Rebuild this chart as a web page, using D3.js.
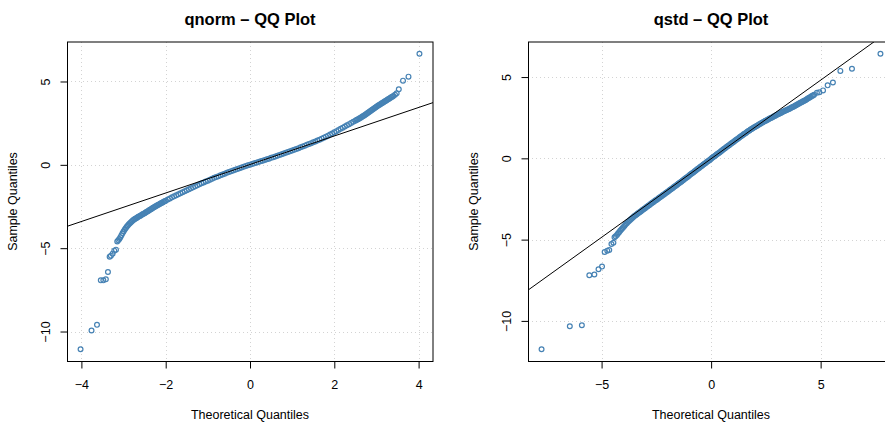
<!DOCTYPE html>
<html>
<head>
<meta charset="utf-8">
<script src="https://cdn.jsdelivr.net/npm/d3@7"></script>
<style>
  body { margin: 0; background: #ffffff; }
  svg { display: block; font-family: "Liberation Sans", Arial, Helvetica, sans-serif; }
</style>
</head>
<body>
<svg id="chart" width="885" height="427"></svg>
<script>
// ---- qnorm panel: theoretical vs sample quantiles ----
const qnormTheoretical = [
  -4.02, -3.76, -3.63, -3.54, -3.48, -3.42, -3.37, -3.33, -3.30, -3.26, -3.22, -3.18,
  -3.15, -3.125, -3.10, -3.075, -3.05, -3.025, -3.00, -2.975, -2.95, -2.925, -2.90, -2.875, -2.85, -2.825, -2.80,
  -2.775, -2.75, -2.725, -2.70, -2.675, -2.65, -2.625, -2.60, -2.575, -2.55,
  -2.525, -2.50, -2.475, -2.45, -2.425, -2.40, -2.375, -2.35, -2.325, -2.30,
  -2.275, -2.25, -2.225, -2.20, -2.175, -2.15, -2.125, -2.10, -2.075, -2.05,
  -2.025, -2.00,
  -1.95, -1.90, -1.85, -1.80, -1.75, -1.70, -1.65, -1.60, -1.55,
  -1.50, -1.45, -1.40, -1.35, -1.30, -1.25, -1.20, -1.15, -1.10, -1.05,
  -1.00, -0.95, -0.90, -0.85, -0.80, -0.75, -0.70, -0.65, -0.60, -0.55,
  -0.50, -0.45, -0.40, -0.35, -0.30, -0.25, -0.20, -0.15, -0.10, -0.05,
  0.00, 0.05, 0.10, 0.15, 0.20, 0.25, 0.30, 0.35, 0.40, 0.45,
  0.50, 0.55, 0.60, 0.65, 0.70, 0.75, 0.80, 0.85, 0.90, 0.95,
  1.00, 1.05, 1.10, 1.15, 1.20, 1.25, 1.30, 1.35, 1.40, 1.45,
  1.50, 1.55, 1.60, 1.65, 1.70, 1.75, 1.80, 1.85, 1.90, 1.95,
  2.00, 2.05, 2.10, 2.15, 2.20, 2.25, 2.30, 2.35, 2.40, 2.45,
  2.50, 2.525, 2.55, 2.575, 2.60, 2.625, 2.65, 2.675, 2.70, 2.725,
  2.75, 2.775, 2.80, 2.825, 2.85, 2.875, 2.90, 2.925, 2.95, 2.975,
  3.00, 3.025, 3.05, 3.075, 3.10, 3.125, 3.15, 3.175, 3.20, 3.225,
  3.25, 3.275, 3.30, 3.325, 3.35, 3.375, 3.40,
  3.44, 3.48, 3.53, 3.63, 3.76, 4.02
];
const qnormSample = [
  -11.06, -9.94, -9.60, -6.93, -6.93, -6.87, -6.43, -5.51, -5.45, -5.33, -5.15, -5.09,
  -4.60, -4.53, -4.45, -4.34, -4.22, -4.11, -4.00, -3.90, -3.80, -3.72, -3.64, -3.57, -3.50, -3.44, -3.38,
  -3.33, -3.28, -3.24, -3.20, -3.16, -3.12, -3.085, -3.05, -3.01, -2.97,
  -2.935, -2.90, -2.86, -2.82, -2.78, -2.74, -2.70, -2.66, -2.62, -2.58,
  -2.54, -2.50, -2.465, -2.43, -2.395, -2.36, -2.325, -2.29, -2.255, -2.22,
  -2.185, -2.15,
  -2.08, -2.02, -1.95, -1.89, -1.83, -1.77, -1.71, -1.65, -1.59,
  -1.53, -1.47, -1.41, -1.35, -1.29, -1.23, -1.17, -1.11, -1.06, -1.00,
  -0.95, -0.89, -0.84, -0.78, -0.73, -0.68, -0.63, -0.58, -0.53, -0.48,
  -0.43, -0.38, -0.34, -0.29, -0.25, -0.20, -0.16, -0.12, -0.07, -0.03,
  0.01, 0.05, 0.09, 0.13, 0.17, 0.21, 0.25, 0.29, 0.33, 0.37,
  0.42, 0.46, 0.50, 0.55, 0.59, 0.63, 0.68, 0.72, 0.77, 0.81,
  0.86, 0.91, 0.95, 1.00, 1.05, 1.10, 1.15, 1.20, 1.25, 1.30,
  1.35, 1.40, 1.46, 1.51, 1.57, 1.63, 1.69, 1.75, 1.82, 1.88,
  1.95, 2.02, 2.09, 2.16, 2.23, 2.30, 2.37, 2.44, 2.51, 2.58,
  2.65, 2.685, 2.72, 2.755, 2.79, 2.83, 2.87, 2.91, 2.95, 2.99,
  3.03, 3.075, 3.12, 3.17, 3.22, 3.265, 3.31, 3.355, 3.40, 3.445,
  3.49, 3.53, 3.57, 3.61, 3.65, 3.69, 3.73, 3.77, 3.81, 3.85,
  3.89, 3.93, 3.97, 4.01, 4.05, 4.09, 4.13,
  4.20, 4.29, 4.53, 5.05, 5.29, 6.66
];
const qnormLine = [0.02, 0.855];          // intercept, slope of the reference line
const qnormXTicks = [-4, -2, 0, 2, 4];
const qnormYTicks = [-10, -5, 0, 5];

// ---- qstd panel: theoretical vs sample quantiles ----
const qstdTheoretical = [
  -7.74, -6.45, -5.90, -5.56, -5.33, -5.14, -4.98, -4.86, -4.74, -4.65, -4.55, -4.46, -4.41, -4.36,
  -4.30, -4.25, -4.20, -4.15, -4.10, -4.05, -4.00, -3.95, -3.90, -3.85, -3.80, -3.75, -3.70, -3.65, -3.60, -3.55, -3.50,
  -3.45, -3.40, -3.35, -3.30, -3.25, -3.20, -3.15, -3.10, -3.05, -3.00,
  -2.95, -2.90, -2.85, -2.80, -2.75, -2.70, -2.65, -2.60, -2.55, -2.50,
  -2.45, -2.40, -2.35, -2.30, -2.25, -2.20, -2.15, -2.10, -2.05, -2.00,
  -1.95, -1.90, -1.85, -1.80, -1.75, -1.70, -1.65, -1.60, -1.55, -1.50,
  -1.45, -1.40, -1.35, -1.30, -1.25, -1.20, -1.15, -1.10, -1.05, -1.00,
  -0.95, -0.90, -0.85, -0.80, -0.75, -0.70, -0.65, -0.60, -0.55, -0.50,
  -0.45, -0.40, -0.35, -0.30, -0.25, -0.20, -0.15, -0.10, -0.05, 0.00,
  0.05, 0.10, 0.15, 0.20, 0.25, 0.30, 0.35, 0.40, 0.45, 0.50,
  0.55, 0.60, 0.65, 0.70, 0.75, 0.80, 0.85, 0.90, 0.95, 1.00,
  1.05, 1.10, 1.15, 1.20, 1.25, 1.30, 1.35, 1.40, 1.45, 1.50,
  1.55, 1.60, 1.65, 1.70, 1.75, 1.80, 1.85, 1.90, 1.95, 2.00,
  2.05, 2.10, 2.15, 2.20, 2.25, 2.30, 2.35, 2.40, 2.45, 2.50,
  2.55, 2.60, 2.65, 2.70, 2.75, 2.80, 2.85, 2.90, 2.95, 3.00,
  3.05, 3.10, 3.15, 3.20, 3.25, 3.30, 3.35, 3.40, 3.45, 3.50,
  3.55, 3.60, 3.65, 3.70, 3.75, 3.80, 3.85, 3.90, 3.95, 4.00,
  4.05, 4.10, 4.15, 4.20, 4.25, 4.30, 4.35, 4.40, 4.45, 4.50, 4.55, 4.60, 4.65, 4.70,
  4.83, 4.94, 5.11, 5.32, 5.56, 5.90, 6.43, 7.73
];
const qstdSample = [
  -11.74, -10.33, -10.27, -7.19, -7.15, -6.82, -6.66, -5.76, -5.68, -5.64, -5.27, -5.19, -4.86, -4.80,
  -4.72, -4.63, -4.55, -4.46, -4.38, -4.30, -4.22, -4.14, -4.06, -3.99, -3.92, -3.85, -3.79, -3.73, -3.67, -3.61, -3.55,
  -3.50, -3.45, -3.40, -3.35, -3.30, -3.25, -3.20, -3.15, -3.10, -3.05,
  -3.00, -2.95, -2.90, -2.85, -2.80, -2.75, -2.70, -2.65, -2.60, -2.56,
  -2.51, -2.46, -2.41, -2.36, -2.31, -2.26, -2.22, -2.17, -2.12, -2.07,
  -2.02, -1.97, -1.92, -1.87, -1.82, -1.77, -1.72, -1.67, -1.62, -1.57,
  -1.52, -1.47, -1.42, -1.37, -1.32, -1.26, -1.21, -1.16, -1.11, -1.05,
  -1.00, -0.95, -0.90, -0.85, -0.80, -0.75, -0.69, -0.64, -0.59, -0.54,
  -0.49, -0.44, -0.38, -0.33, -0.28, -0.23, -0.18, -0.13, -0.08, -0.02,
  0.03, 0.08, 0.13, 0.18, 0.23, 0.28, 0.33, 0.38, 0.44, 0.49,
  0.54, 0.59, 0.64, 0.69, 0.74, 0.79, 0.84, 0.89, 0.94, 0.99,
  1.04, 1.09, 1.14, 1.19, 1.24, 1.29, 1.34, 1.39, 1.44, 1.49,
  1.53, 1.58, 1.63, 1.68, 1.72, 1.77, 1.81, 1.85, 1.89, 1.93,
  1.97, 2.01, 2.05, 2.09, 2.13, 2.17, 2.21, 2.25, 2.29, 2.32,
  2.36, 2.39, 2.43, 2.46, 2.50, 2.53, 2.57, 2.60, 2.64, 2.68,
  2.71, 2.74, 2.78, 2.81, 2.85, 2.88, 2.91, 2.94, 2.97, 3.00,
  3.04, 3.07, 3.11, 3.14, 3.18, 3.21, 3.25, 3.28, 3.32, 3.36,
  3.40, 3.44, 3.47, 3.51, 3.55, 3.58, 3.62, 3.67, 3.71, 3.75, 3.79, 3.83, 3.87, 3.91,
  4.03, 4.07, 4.18, 4.49, 4.67, 5.38, 5.51, 6.43
];
const qstdLine = [-0.025, 0.967];         // intercept, slope of the reference line
const qstdXTicks = [-5, 0, 5];
const qstdYTicks = [-10, -5, 0, 5];

// ---- layout ----
const svg = d3.select("#chart");
const pointColor = "steelblue";
const fmt = d => String(d).replace("-", "\u2212");

const panels = [
  { id: "qnorm", title: "qnorm \u2013 QQ Plot", tx: qnormTheoretical, sy: qnormSample,
    line: qnormLine, xt: qnormXTicks, yt: qnormYTicks,
    box: { left: 67, right: 433, top: 42, bottom: 361 } },
  { id: "qstd", title: "qstd \u2013 QQ Plot", tx: qstdTheoretical, sy: qstdSample,
    line: qstdLine, xt: qstdXTicks, yt: qstdYTicks,
    box: { left: 528, right: 894, top: 42, bottom: 361 } }
];

// R-style axis range: data extent padded by 4% on each side
function padded(values) {
  const [lo, hi] = d3.extent(values);
  const pad = (hi - lo) * 0.04;
  return [lo - pad, hi + pad];
}

panels.forEach(p => {
  const b = p.box;
  const x = d3.scaleLinear().domain(padded(p.tx)).range([b.left, b.right]);
  const y = d3.scaleLinear().domain(padded(p.sy)).range([b.bottom, b.top]);
  const g = svg.append("g").attr("class", "panel-" + p.id);

  svg.append("clipPath").attr("id", "clip-" + p.id)
    .append("rect")
    .attr("x", b.left).attr("y", b.top)
    .attr("width", b.right - b.left).attr("height", b.bottom - b.top);

  // dotted grid at the tick positions
  const grid = g.append("g").attr("clip-path", `url(#clip-${p.id})`)
    .attr("stroke", "#d3d3d3").attr("stroke-width", 1).attr("stroke-dasharray", "1,3");
  grid.selectAll("line.v").data(p.xt).join("line").attr("class", "v")
    .attr("x1", d => Math.round(x(d)) + 0.5).attr("x2", d => Math.round(x(d)) + 0.5)
    .attr("y1", b.top).attr("y2", b.bottom);
  grid.selectAll("line.h").data(p.yt).join("line").attr("class", "h")
    .attr("y1", d => Math.round(y(d)) + 0.5).attr("y2", d => Math.round(y(d)) + 0.5)
    .attr("x1", b.left).attr("x2", b.right);

  // points
  const pts = d3.zip(p.tx, p.sy);
  g.append("g").selectAll("circle").data(pts).join("circle")
    .attr("cx", d => x(d[0])).attr("cy", d => y(d[1])).attr("r", 2.4)
    .attr("fill", "none").attr("stroke", pointColor).attr("stroke-width", 1.2);

  // reference line
  const [x0, x1] = x.domain();
  g.append("line").attr("clip-path", `url(#clip-${p.id})`)
    .attr("x1", x(x0)).attr("y1", y(p.line[0] + p.line[1] * x0))
    .attr("x2", x(x1)).attr("y2", y(p.line[0] + p.line[1] * x1))
    .attr("stroke", "#000").attr("stroke-width", 1);

  // frame
  g.append("rect")
    .attr("x", b.left + 0.5).attr("y", b.top)
    .attr("width", b.right - b.left - 0.5).attr("height", b.bottom - b.top + 0.5)
    .attr("fill", "none").attr("stroke", "#000").attr("stroke-width", 1);

  // bottom axis
  const ax = g.append("g").attr("transform", `translate(0,${b.bottom + 0.5})`)
    .call(d3.axisBottom(x).tickValues(p.xt).tickSize(7).tickFormat(fmt));
  ax.select(".domain").remove();
  ax.selectAll(".tick line").attr("stroke", "#000");
  ax.selectAll(".tick text").attr("y", 27).attr("dy", 0)
    .attr("font-size", 12.5).attr("fill", "#000")
    .attr("font-family", "Liberation Sans, Arial, sans-serif");

  // left axis with labels turned parallel to the axis
  const ay = g.append("g").attr("transform", `translate(${b.left + 0.5},0)`)
    .call(d3.axisLeft(y).tickValues(p.yt).tickSize(7).tickFormat(fmt));
  ay.select(".domain").remove();
  ay.selectAll(".tick line").attr("stroke", "#000");
  ay.selectAll(".tick text")
    .attr("transform", "rotate(-90)").attr("x", 0).attr("y", -18).attr("dy", 0)
    .attr("text-anchor", "middle")
    .attr("font-size", 12.5).attr("fill", "#000")
    .attr("font-family", "Liberation Sans, Arial, sans-serif");

  // titles
  const cx = (b.left + b.right) / 2, cy = (b.top + b.bottom) / 2;
  g.append("text").attr("x", cx).attr("y", 25).attr("text-anchor", "middle")
    .attr("font-size", 16.5).attr("font-weight", "bold").text(p.title);
  g.append("text").attr("x", cx).attr("y", 419).attr("text-anchor", "middle")
    .attr("font-size", 12.5).text("Theoretical Quantiles");
  g.append("text").attr("transform", `translate(${b.left - 50},${cy}) rotate(-90)`)
    .attr("text-anchor", "middle").attr("font-size", 12.5).text("Sample Quantiles");
});
</script>
</body>
</html>
